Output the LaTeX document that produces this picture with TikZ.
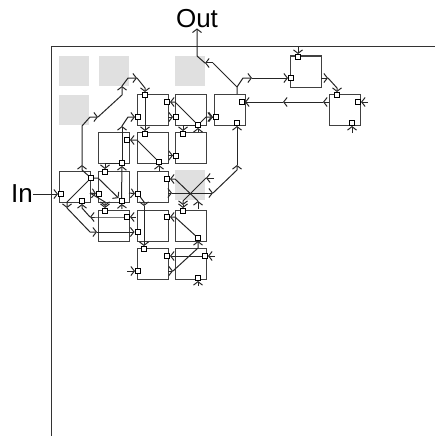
\documentclass[tikz,border=0pt]{standalone}
\usepackage{fontspec}
\setmainfont{Liberation Sans}
\usetikzlibrary{arrows.meta, positioning}
\tikzset{
    greybox/.style={fill=black!12, draw=none, anchor=north west, inner sep=0pt, minimum width=30pt, minimum height=30pt},
    cellbox/.style={draw=black!75, line width=1.1pt, anchor=north west, inner sep=0pt, minimum size=31pt},
    port/.style={draw=black, fill=white, line width=1pt, inner sep=0pt, minimum size=5pt},
    wire/.style={draw=black!85, line width=1pt},
    tip/.style={wire, -{Straight Barb[length=3.5pt,width=9pt]}},
    label/.style={inner sep=0pt, font=\fontsize{26}{30}\selectfont}
}
\begin{document}
\begin{tikzpicture}[x=1pt, y=-1pt]
    \useasboundingbox (0,0) rectangle (435,436);
    % unused sites
    \foreach \n/\x/\y in {ga/59/56, gb/99/56, gc/59/95, gd/175/56, ge/175/170}
        \node[greybox] (\n) at (\x,\y) {};
    % frame
    \coordinate (corner) at (51,47);
    \coordinate (right) at (435,47);
    \coordinate (bottom) at (51,436);
    \draw[black!80, line width=1pt] (right) -- (corner) -- (bottom);
    % cells
    \foreach \n/\x/\y in {a4/59/171, b3/98/132, b4/98/171, b5/98/209.5,
                          c2/136.5/94, c3/136.5/132, c4/136.5/171, c5/136.5/209.5, c6/136.5/248,
                          d2/175/94, d3/175/132, d5/175/209.5, d6/175/248,
                          e2/214/94, fb/290/55.5, gb2/329/94}
        \node[cellbox] (\n) at (\x,\y) {};
    % ports
    \foreach \n/\x/\y in {e2e/242/102, e2s/237/123, e2w/216/117,
                          c2n/145/95, c2e/167/102, c2w/138/117,
                          d2w/176/117, d2s/198/125, d3n/183/134, d3w/176/155.5,
                          b3e/127/140, b3s/122/163, c3n/145/134, c3s/159/162,
                          a4w/61/194, a4e/91/178, a4s/82/201,
                          b4n/105/172, b4w/99/194, b4s/121.5/201,
                          c4w/138/194, c4e/167/179,
                          b5n/105/211, b5e/127/217,
                          c5w/137.5/232, c5e/167/217,
                          d5n/183/211, d5s/198/238,
                          c6n/144/249, c6w/138/271, c6e/167/256,
                          d6e/205/256, d6s/198/278,
                          fn/298/57, fw/291/78, gn/337/95, ge2/358/102, gs/352/123}
        \node[port] (\n) at (\x,\y) {};
    % bends and free ends
    \foreach \n/\x/\y in {oa/197/56, ob/205/63, oc/213/63, od/237/87, oe/237/94, of/243/78, og/252/78,
                          ua/82/170, ub/82/165, uc/82/126, ud/90/117, ue/98/117, uf/122/95, ug/122/86,
                          uh/128/78, ui/137/78, uj/145/88,
                          va/98/178, vb/67/202, vc/67/208, vd/90/232, ve/97/232,
                          wa/90/193, wb/105/202, wc/105/206,
                          xa/98/217, xb/90/217, xc/82/208, xd/136/217,
                          ya/122/209, yb/122/126, yc/128/117, yd/105/163,
                          za/137/140, zb/159/171,
                          pa/175/102, pb/206/117, pc/212/117, pd/183/125, pe/168/117, pf/198/132,
                          qa/168/193, qb/172/193, qc/213/193, qd/237/170, qe/237/165,
                          ra/198/209, rb/198/201, rc/175/179,
                          sa/214/178, sb/206/178, sc/183/201, sd/183/205,
                          ta/129/193, tb/144/202, tc/144/206,
                          ma/175/217, mb/198/248, mc/168/271, md/173/271,
                          na/168/155.5, nb/215/256, nc/198/286, nd/127/271,
                          fa/298/47, fc/321/78, fd/328/78, fe/337/88,
                          ha/368/102, hb/352/133, hc/329/102, hd/323/102, he/283/102}
        \coordinate (\n) at (\x,\y);
    % labels
    \node[label] (out) at (197,19) {Out};
    \node[label, anchor=east] (inl) at (33,194) {In};
    % wires
    \draw[tip] (inl) -- (a4w);
    \draw[tip] (oc) -- (ob);
    \draw[tip] (ob) -- (oa) -- (out);
    \draw[wire] (oe) -- (od) -- (oc);
    \draw[tip] (od) -- (of) -- (og);
    \draw[tip] (og) -- (fw);
    \draw[tip] (a4e) -- (ua) -- (ub);
    \draw[tip] (ub) -- (uc) -- (ud) -- (ue);
    \draw[tip] (ue) -- (uf) -- (ug);
    \draw[tip] (ug) -- (uh) -- (ui);
    \draw[tip] (ui) -- (uj) -- (c2n);
    \draw[tip] (c2n) -- (c3n);
    \draw[tip] (a4e) -- (va) -- (b4s);
    \draw[tip] (a4e) -- (vb) -- (vc);
    \draw[tip] (vc) -- (vd) -- (ve);
    \draw[tip] (ve) -- (c5w);
    \draw[tip] (wa) -- (b4w);
    \draw[tip] (wa) -- (wb) -- (wc);
    \draw[tip] (wc) -- (b5n);
    \draw[tip] (xd) -- (b5e);
    \draw[tip] (b5e) -- (xa) -- (xb);
    \draw[tip] (xb) -- (xc) -- (a4s);
    \draw[tip] (ya) -- (b4s);
    \draw[tip] (b4s) -- (b3s);
    \draw[tip] (b3s) -- (yb);
    \draw[tip] (yb) -- (yc) -- (c2w);
    \draw[tip] (b3s) -- (yd) -- (b4n);
    \draw[tip] (c3s) -- (za) -- (b3e);
    \draw[tip] (zb) -- (c3s);
    \draw[tip] (d2s) -- (pa) -- (c2e);
    \draw[tip] (d2s) -- (pb) -- (pc);
    \draw[tip] (pc) -- (e2w);
    \draw[tip] (d2s) -- (pd) -- (d3n);
    \draw[tip] (pe) -- (d2w);
    \draw[tip] (pf) -- (d2s);
    \draw[tip] (na) -- (d3w);
    \draw[tip] (qa) -- (qb);
    \draw[tip] (qb) -- (qc);
    \draw[tip] (qc) -- (qd) -- (qe);
    \draw[tip] (qe) -- (e2s);
    \draw[tip] (ra) -- (rb);
    \draw[tip] (rb) -- (rc) -- (c4e);
    \draw[tip] (sa) -- (sb);
    \draw[tip] (sb) -- (sc) -- (sd);
    \draw[tip] (sd) -- (d5n);
    \draw[tip] (ta) -- (c4w);
    \draw[tip] (c4w) -- (tb) -- (tc);
    \draw[tip] (tc) -- (c6n);
    \draw[tip] (d5s) -- (ma) -- (c5e);
    \draw[tip] (mc) -- (md);
    \draw[tip] (md) -- (mb) -- (d5s);
    \draw[tip] (d6e) -- (c6e);
    \draw[tip] (nb) -- (d6e);
    \draw[tip] (nc) -- (d6s);
    \draw[tip] (nd) -- (c6w);
    \draw[tip] (fa) -- (fn);
    \draw[tip] (fc) -- (fd);
    \draw[tip] (fd) -- (fe) -- (gn);
    \draw[tip] (ha) -- (ge2);
    \draw[tip] (hb) -- (gs);
    \draw[tip] (hc) -- (hd);
    \draw[tip] (hd) -- (he);
    \draw[tip] (he) -- (e2e);
\end{tikzpicture}
\end{document}
